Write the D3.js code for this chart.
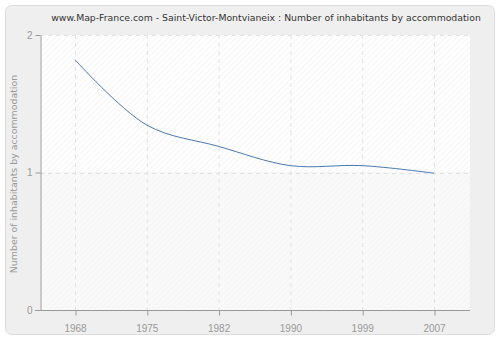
<!DOCTYPE html>
<html>
<head>
<meta charset="utf-8">
<script src="https://cdn.jsdelivr.net/npm/d3@7"></script>
<style>
  body { margin: 0; background: #fff; }
  svg { display: block; font-family: "DejaVu Sans", Verdana, sans-serif; }
</style>
</head>
<body>
<div id="chart"></div>
<script>
// Data
const years = ['1968', '1975', '1982', '1990', '1999', '2007'];
const values = [1.82, 1.345, 1.19, 1.05, 1.05, 0.995];
const yTicks = [0, 1, 2];

const svgWidth = 500, svgHeight = 340;
const margin = { top: 35, right: 30, bottom: 30, left: 40 };
const chartWidth = svgWidth - margin.left - margin.right;
const chartHeight = svgHeight - margin.top - margin.bottom;

let svg = d3.select('#chart')
  .append('svg')
  .attr('width', svgWidth)
  .attr('height', svgHeight);

// Hatch patterns for plot background
const defs = svg.append('defs');
function hatch(id, bg, fg) {
  const pat = defs.append('pattern')
    .attr('id', id)
    .attr('patternUnits', 'userSpaceOnUse')
    .attr('width', 4)
    .attr('height', 4)
    .attr('patternTransform', 'rotate(45)');
  pat.append('rect').attr('width', 4).attr('height', 4).attr('fill', bg);
  pat.append('line').attr('x1', 0).attr('y1', 0).attr('x2', 0).attr('y2', 4)
    .attr('stroke', fg).attr('stroke-width', 1);
}
hatch('hatchTop', '#ffffff', '#ececec');
hatch('hatchBottom', '#f9f9f9', '#f1f1f1');

// Outer panel
svg.append('rect')
  .attr('x', 5.5).attr('y', 5.5)
  .attr('width', 489).attr('height', 329)
  .attr('rx', 6)
  .attr('fill', '#efefef')
  .attr('stroke', '#dddddd');

let chart = svg.append('g')
  .attr('transform', `translate(${margin.left}, ${margin.top})`);

// Scales
let xScale = d3.scalePoint()
  .domain(years)
  .range([35, 394]);

let yScale = d3.scaleLinear()
  .domain([0, 2])
  .range([chartHeight, 0]);

// Plot background (upper and lower halves)
chart.append('rect')
  .attr('width', chartWidth)
  .attr('height', yScale(1))
  .attr('fill', 'url(#hatchTop)');
chart.append('rect')
  .attr('y', yScale(1))
  .attr('width', chartWidth)
  .attr('height', chartHeight - yScale(1))
  .attr('fill', 'url(#hatchBottom)');

// Grid lines
chart.selectAll('.vgrid')
  .data(years)
  .enter()
  .append('line')
  .attr('x1', d => xScale(d) + 0.5)
  .attr('x2', d => xScale(d) + 0.5)
  .attr('y1', 0)
  .attr('y2', chartHeight)
  .attr('stroke', '#e2e2e2')
  .attr('stroke-dasharray', '4,4');

chart.selectAll('.hgrid')
  .data(yTicks.slice(1))
  .enter()
  .append('line')
  .attr('x1', 0)
  .attr('x2', chartWidth)
  .attr('y1', d => Math.round(yScale(d)) + 0.5)
  .attr('y2', d => Math.round(yScale(d)) + 0.5)
  .attr('stroke', '#e2e2e2')
  .attr('stroke-dasharray', '4,4');

// Axes
let xAxis = chart.append('g')
  .attr('transform', `translate(0, ${chartHeight + 0.5})`)
  .call(d3.axisBottom(xScale).tickSize(5).tickSizeOuter(0));
xAxis.select('.domain').attr('d', `M-5,0H${chartWidth}`);

let yAxis = chart.append('g')
  .attr('transform', 'translate(0.5, 0)')
  .call(d3.axisLeft(yScale).tickValues(yTicks).tickFormat(d3.format('d')).tickSize(5).tickSizeOuter(0));

[xAxis, yAxis].forEach(a => {
  a.select('.domain').attr('stroke', '#999');
  a.selectAll('.tick line').attr('stroke', '#999');
  a.selectAll('.tick text').attr('fill', '#999').style('font-size', '10px');
});
xAxis.selectAll('.tick line').attr('transform', 'translate(0.5,0)');
xAxis.selectAll('.tick text').attr('dy', '1.3em');

// Line
const line = d3.line()
  .x((d, i) => xScale(years[i]))
  .y(d => yScale(d))
  .curve(d3.curveCatmullRom);

chart.append('path')
  .datum(values)
  .attr('d', line)
  .attr('fill', 'none')
  .attr('stroke', '#4a78b0')
  .attr('stroke-width', 1);

// Title
svg.append('text')
  .attr('x', 266)
  .attr('y', 21)
  .attr('text-anchor', 'middle')
  .style('font-size', '9.3px')
  .style('fill', '#333')
  .text('www.Map-France.com - Saint-Victor-Montvianeix : Number of inhabitants by accommodation');

// Y axis label
svg.append('text')
  .attr('transform', 'rotate(-90)')
  .attr('x', -174)
  .attr('y', 17)
  .attr('text-anchor', 'middle')
  .style('font-size', '9.4px')
  .style('fill', '#999')
  .text('Number of inhabitants by accommodation');
</script>
</body>
</html>
